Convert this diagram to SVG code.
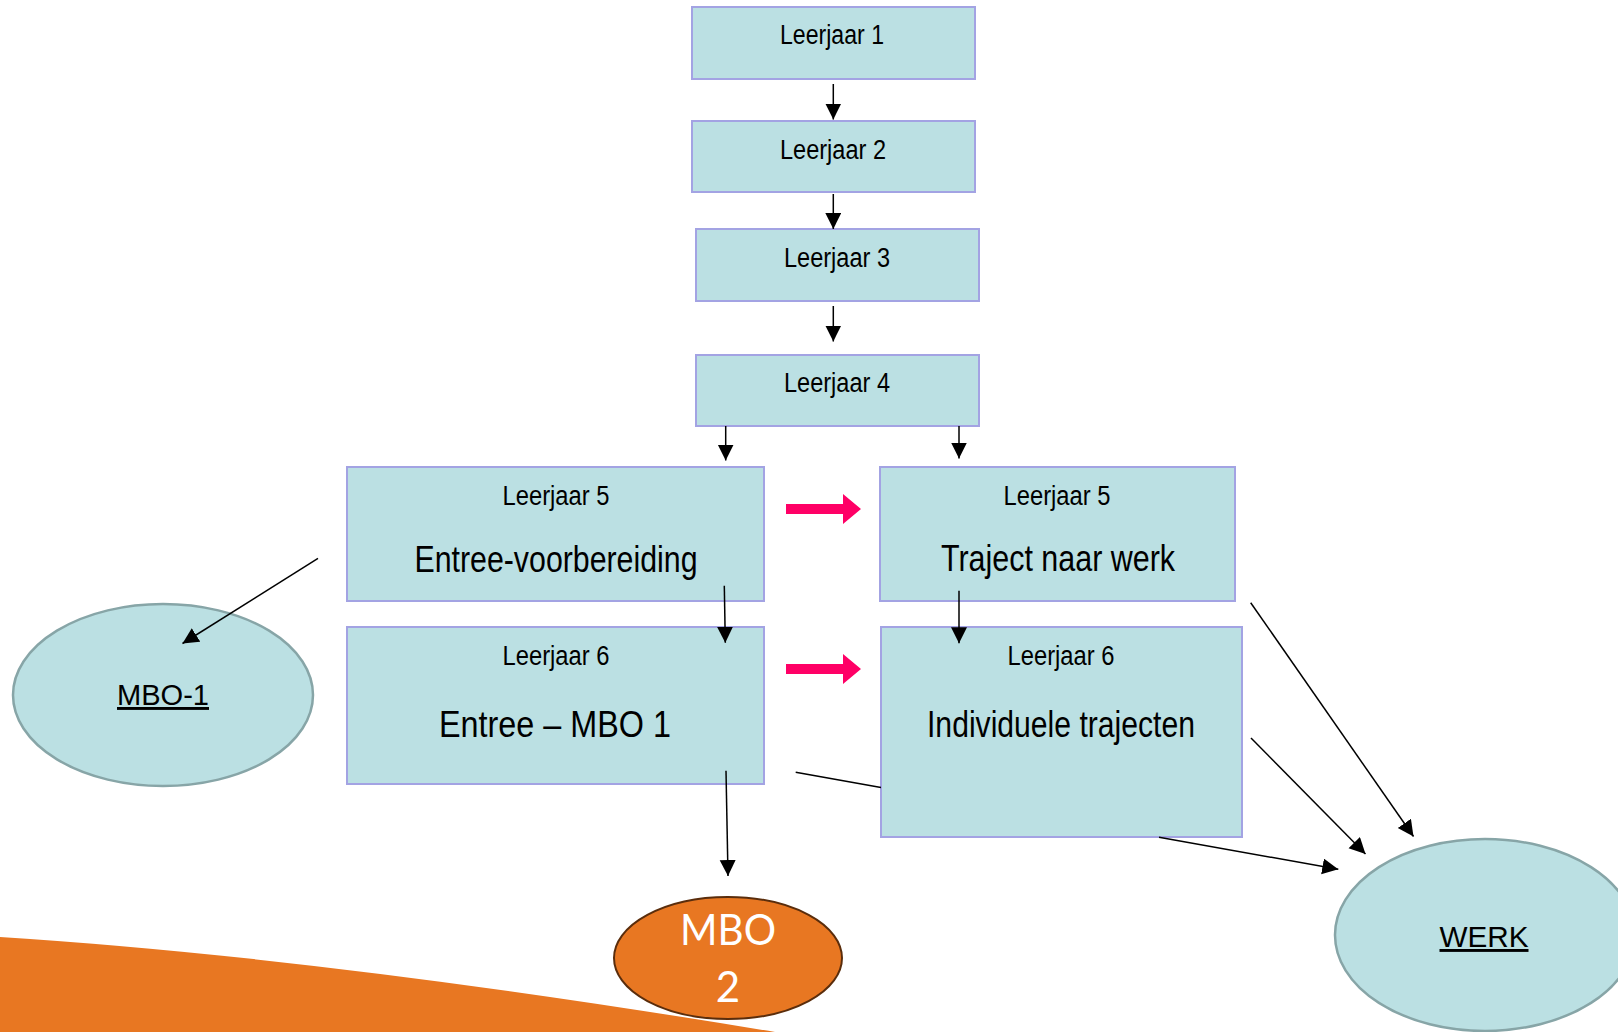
<svg xmlns="http://www.w3.org/2000/svg" width="1618" height="1032" viewBox="0 0 1618 1032">
<defs>
<style>
.box{fill:#bbe0e3;stroke:#a3a3e3;stroke-width:2}
.oval{fill:#bbe0e3;stroke:#87a5a7;stroke-width:2.5}
.t{font-family:"Liberation Sans",Arial,sans-serif;fill:#000;text-anchor:middle}
.s{font-size:27px}
.b{font-size:36px}
.u{font-size:29px;text-decoration:underline}
.con{stroke:#000;stroke-width:1.5;fill:none;marker-end:url(#ah)}
.pink{fill:#ff0066}
</style>
<marker id="ah" markerUnits="userSpaceOnUse" markerWidth="17" markerHeight="17" refX="16" refY="8" orient="auto" viewBox="0 0 17 17">
<path d="M0,0 L16,8 L0,16 z" fill="#000"/>
</marker>
</defs>
<rect width="1618" height="1032" fill="#fff"/>
<path id="swoosh" d="M0,937 Q330,958 775,1032 L0,1032 Z" fill="#e87722"/>

<g id="nodes">
<g id="leerjaar1"><rect class="box" x="692" y="7" width="283" height="72"/><text class="t s" x="832" y="44" textLength="104" lengthAdjust="spacingAndGlyphs">Leerjaar 1</text></g>
<g id="leerjaar2"><rect class="box" x="692" y="121" width="283" height="71"/><text class="t s" x="833" y="159" textLength="106" lengthAdjust="spacingAndGlyphs">Leerjaar 2</text></g>
<g id="leerjaar3"><rect class="box" x="696" y="229" width="283" height="72"/><text class="t s" x="837" y="267" textLength="106" lengthAdjust="spacingAndGlyphs">Leerjaar 3</text></g>
<g id="leerjaar4"><rect class="box" x="696" y="355" width="283" height="71"/><text class="t s" x="837" y="392" textLength="106" lengthAdjust="spacingAndGlyphs">Leerjaar 4</text></g>
<g id="leerjaar5-entree"><rect class="box" x="347" y="467" width="417" height="134"/><text class="t s" x="556" y="505" textLength="107" lengthAdjust="spacingAndGlyphs">Leerjaar 5</text><text class="t b" x="556" y="572" textLength="283" lengthAdjust="spacingAndGlyphs">Entree-voorbereiding</text></g>
<g id="leerjaar6-entree"><rect class="box" x="347" y="627" width="417" height="157"/><text class="t s" x="556" y="665" textLength="107" lengthAdjust="spacingAndGlyphs">Leerjaar 6</text><text class="t b" x="555" y="737" textLength="232" lengthAdjust="spacingAndGlyphs">Entree – MBO 1</text></g>
<g id="leerjaar5-werk"><rect class="box" x="880" y="467" width="355" height="134"/><text class="t s" x="1057" y="505" textLength="107" lengthAdjust="spacingAndGlyphs">Leerjaar 5</text><text class="t b" x="1058" y="571" textLength="234" lengthAdjust="spacingAndGlyphs">Traject naar werk</text></g>
<g id="leerjaar6-indiv"><rect class="box" x="881" y="627" width="361" height="210"/><text class="t s" x="1061" y="665" textLength="107" lengthAdjust="spacingAndGlyphs">Leerjaar 6</text><text class="t b" x="1061" y="737" textLength="268" lengthAdjust="spacingAndGlyphs">Individuele trajecten</text></g>
<g id="mbo1"><ellipse class="oval" cx="163" cy="695" rx="150" ry="91"/><text class="t u" x="163" y="705" textLength="92" lengthAdjust="spacingAndGlyphs">MBO-1</text></g>
<g id="werk"><ellipse class="oval" cx="1485" cy="935" rx="150" ry="96"/><text class="t u" x="1484" y="947" textLength="89" lengthAdjust="spacingAndGlyphs">WERK</text></g>
<g id="mbo2"><ellipse cx="728" cy="958" rx="114" ry="61" fill="#e87722" stroke="#5a2d0c" stroke-width="2"/><text x="728" y="945" text-anchor="middle" font-family="Lato,'Open Sans',sans-serif" font-size="42" fill="#fff" textLength="96" lengthAdjust="spacingAndGlyphs">MBO</text><text x="728" y="1002" text-anchor="middle" font-family="Lato,'Open Sans',sans-serif" font-size="42" fill="#fff">2</text></g>
</g>

<g id="connectors">
<line class="con" x1="833.3" y1="84" x2="833.3" y2="119.5"/>
<line class="con" x1="833.3" y1="194" x2="833.3" y2="229"/>
<line class="con" x1="833.3" y1="306" x2="833.3" y2="341.5"/>
<line class="con" x1="725.7" y1="426" x2="725.7" y2="460.5"/>
<line class="con" x1="959" y1="426" x2="959" y2="458.5"/>
<line class="con" x1="724.3" y1="585.7" x2="725.3" y2="642.7"/>
<line class="con" x1="959" y1="590.7" x2="959" y2="643.3"/>
<line class="con" x1="318" y1="558.3" x2="182.5" y2="643.5"/>
<line class="con" x1="726" y1="770.7" x2="728" y2="876"/>
<line class="con" x1="1250.7" y1="602.7" x2="1413.5" y2="836.5"/>
<line class="con" x1="1251" y1="738" x2="1365.5" y2="854"/>
<path class="con" d="M795.7,772.3 L881,787.5 M1159,837.3 L1338.3,869.3"/>
<path class="pink" d="M786,504 L843,504 L843,494 L861,509 L843,524 L843,514 L786,514 Z"/>
<path class="pink" d="M786,664 L843,664 L843,654 L861,669 L843,684 L843,674 L786,674 Z"/>
</g>
</svg>
